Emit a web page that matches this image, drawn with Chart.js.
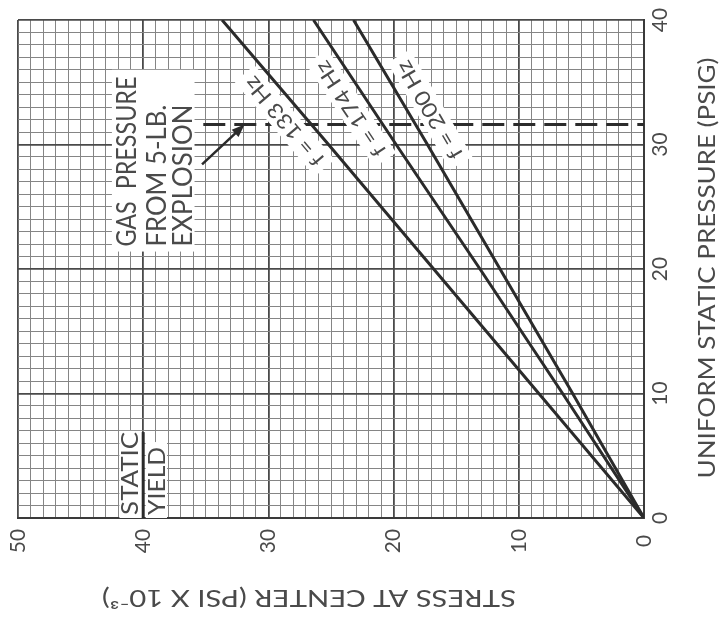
<!DOCTYPE html>
<html>
<head>
<meta charset="utf-8">
<script src="https://cdn.jsdelivr.net/npm/chart.js@4.4.0/dist/chart.umd.min.js"></script>
<style>
html,body{margin:0;padding:0;background:#fff}
</style>
</head>
<body>
<canvas id="chart" width="726" height="622"></canvas>
<script>
// values (stress in psi x 10^-3, pressure in psig)
const pressure = [0, 10, 20, 30, 40];
const stress133 = [0, 8.4, 16.8, 25.2, 33.7];
const stress174 = [0, 6.5, 13.1, 19.8, 26.4];
const stress200 = [0, 5.7, 11.5, 17.3, 23.2];
const seriesNames = ["f = 133 Hz", "f = 174 Hz", "f = 200 Hz"];
const stressTicks = [50, 40, 30, 20, 10, 0];
const pressureTicks = [0, 10, 20, 30, 40];
const gasPressure = 31.6;
const staticYield = 40;

const ink = "#2b2b2b";
const textCol = "#4a4a4a";
const font = "Lato";

function pts(xs) { return xs.map((v, i) => ({x: v, y: pressure[i]})); }

function txt(c, s, x, y, ang, size, len, align) {
  c.save();
  c.translate(x, y);
  c.rotate(ang);
  c.font = size + "px " + font;
  c.textAlign = align || "center";
  c.textBaseline = "middle";
  c.fillStyle = textCol;
  if (len) { const w = c.measureText(s).width; c.scale(len / w, 1); }
  c.fillText(s, 0, 0);
  c.restore();
}

// annotation spots, in data units (stress, pressure)
const labelSpots = [[28.7, 31.9], [23.4, 32.9], [17.1, 32.8]];
const gasBox = [42.5, 35.9, 21.4, 36.0];
const gasLines = [["GAS  PRESSURE", 41.3, 170], ["FROM 5-LB.", 38.9, 142], ["EXPLOSION", 36.8, 142]];
const arrowTail = [35.3, 28.4], arrowHead = [31.9, 31.6];

const paper = {
  id: "paper",
  beforeDraw(chart) {
    const c = chart.ctx;
    c.save(); c.fillStyle = "#fff"; c.fillRect(0, 0, chart.width, chart.height); c.restore();
  },
  beforeDatasetsDraw(chart) {
    const c = chart.ctx, X = chart.scales.x, Y = chart.scales.y;
    const px = v => X.getPixelForValue(v), py = v => Y.getPixelForValue(v);
    c.save();
    // dashed gas pressure line
    c.strokeStyle = ink; c.lineWidth = 3; c.setLineDash([22, 9]);
    c.beginPath(); c.moveTo(px(35.2), py(gasPressure)); c.lineTo(px(0), py(gasPressure)); c.stroke();
    c.setLineDash([]);
    // gas pressure note
    c.fillStyle = "#fff";
    c.fillRect(px(gasBox[0]), py(gasBox[3]), px(gasBox[1]) - px(gasBox[0]), py(gasBox[2]) - py(gasBox[3]));
    gasLines.forEach(g => txt(c, g[0], px(g[1]), py(21.8), -Math.PI / 2, 27, g[2], "left"));
    // arrow
    const tx = px(arrowTail[0]), ty = py(arrowTail[1]), hx = px(arrowHead[0]), hy = py(arrowHead[1]);
    const a = Math.atan2(hy - ty, hx - tx);
    c.strokeStyle = ink; c.fillStyle = ink; c.lineWidth = 2.5;
    c.beginPath(); c.moveTo(tx, ty); c.lineTo(hx - 8 * Math.cos(a), hy - 8 * Math.sin(a)); c.stroke();
    c.beginPath();
    c.moveTo(hx, hy);
    c.lineTo(hx - 13 * Math.cos(a) + 5 * Math.sin(a), hy - 13 * Math.sin(a) - 5 * Math.cos(a));
    c.lineTo(hx - 13 * Math.cos(a) - 5 * Math.sin(a), hy - 13 * Math.sin(a) + 5 * Math.cos(a));
    c.closePath(); c.fill();
    // static yield
    c.fillStyle = "#fff";
    c.fillRect(px(41.9), py(7.0), px(40.1) - px(41.9), py(0) - py(7.0));
    c.fillRect(px(39.8), py(6.1), px(38.1) - px(39.8), py(0) - py(6.1));
    c.strokeStyle = ink; c.lineWidth = 3;
    c.beginPath(); c.moveTo(px(staticYield), py(0)); c.lineTo(px(staticYield), py(6.9)); c.stroke();
    txt(c, "STATIC", px(41.05), py(0.25), -Math.PI / 2, 24, 83, "left");
    txt(c, "YIELD", px(38.9), py(0.25), -Math.PI / 2, 24, 68, "left");
    // curve labels
    const sets = [stress133, stress174, stress200];
    sets.forEach((s, i) => {
      const n = s.length - 1;
      const ang = Math.atan2(py(pressure[n]) - py(pressure[0]), px(s[n]) - px(s[0]));
      const cx = px(labelSpots[i][0]), cy = py(labelSpots[i][1]);
      c.save(); c.translate(cx, cy); c.rotate(ang);
      c.fillStyle = "#fff"; c.fillRect(-62, -13, 124, 26);
      c.restore();
      txt(c, seriesNames[i], cx, cy, ang, 21, 110);
    });
    c.restore();
  },
  afterDraw(chart) {
    const c = chart.ctx, X = chart.scales.x, Y = chart.scales.y;
    stressTicks.forEach(v => txt(c, String(v), X.getPixelForValue(v), 541, -Math.PI / 2, 21));
    pressureTicks.forEach(v => txt(c, String(v), 660, Y.getPixelForValue(v), -Math.PI / 2, 21));
    txt(c, "UNIFORM STATIC PRESSURE (PSIG)", 707, 268, -Math.PI / 2, 24, 421);
    txt(c, "STRESS AT CENTER (PSI X 10\u207B\u00B3)", 309, 598, Math.PI, 24, 414);
  }
};

const gridOpts = {
  color: g => (g.tick && g.tick.value % 10 === 0) ? "#4a4a4a" : "#858585",
  lineWidth: g => (g.tick && g.tick.value % 10 === 0) ? 1.8 : 1,
  drawTicks: false
};

new Chart(document.getElementById("chart"), {
  type: "scatter",
  data: {
    datasets: [
      {label: seriesNames[0], data: pts(stress133)},
      {label: seriesNames[1], data: pts(stress174)},
      {label: seriesNames[2], data: pts(stress200)}
    ].map(d => Object.assign(d, {showLine: true, borderColor: ink, borderWidth: 3, pointRadius: 0, tension: 0}))
  },
  options: {
    responsive: false,
    animation: false,
    layout: {padding: {left: 18, top: 20, right: 82, bottom: 104}},
    plugins: {legend: {display: false}, tooltip: {enabled: false}},
    scales: {
      x: {type: "linear", reverse: true, min: 0, max: 50,
          ticks: {stepSize: 1, display: false}, grid: gridOpts,
          border: {display: true, color: "#3a3a3a", width: 2}},
      y: {type: "linear", position: "right", min: 0, max: 40,
          ticks: {stepSize: 1, display: false}, grid: gridOpts,
          border: {display: true, color: "#3a3a3a", width: 2}}
    }
  },
  plugins: [paper]
});
</script>
</body>
</html>
